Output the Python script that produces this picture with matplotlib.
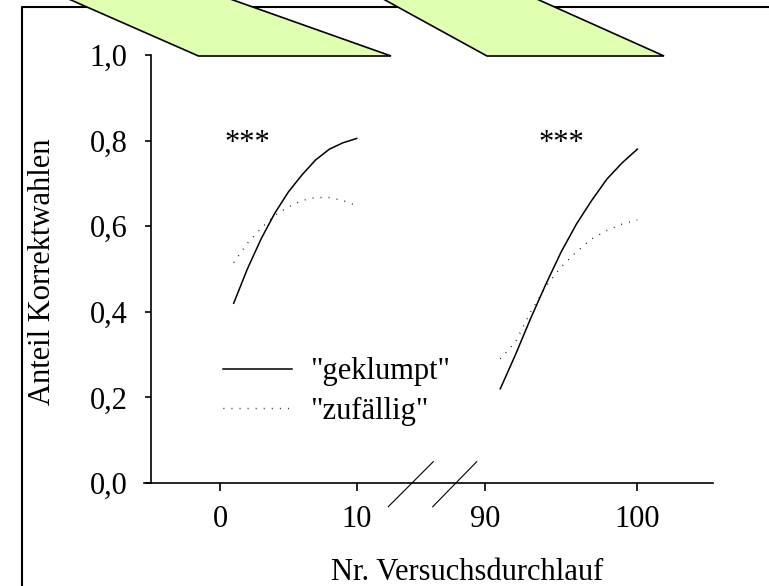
import numpy as np
import matplotlib
matplotlib.use("Agg")
import matplotlib.pyplot as plt
from matplotlib.lines import Line2D
from matplotlib.patches import Polygon
from matplotlib.ticker import FuncFormatter

# Versuchsdurchläufe am Anfang und am Ende
durchlauf_anfang = [1, 2, 3, 4, 5, 6, 7, 8, 9, 10]
durchlauf_ende = [91, 92, 93, 94, 95, 96, 97, 98, 99, 100]

# Anteil Korrektwahlen (angepasste Kurven)
geklumpt_anfang = [0.42, 0.50, 0.57, 0.63, 0.68, 0.72, 0.755, 0.78, 0.795, 0.805]
zufaellig_anfang = [0.515, 0.56, 0.595, 0.625, 0.645, 0.66, 0.667, 0.667, 0.66, 0.648]
geklumpt_ende = [0.22, 0.30, 0.385, 0.465, 0.54, 0.605, 0.66, 0.71, 0.748, 0.78]
zufaellig_ende = [0.29, 0.33, 0.40, 0.46, 0.505, 0.54, 0.57, 0.59, 0.605, 0.615]

x_ticks = [0, 10, 90, 100]
y_ticks = [0.0, 0.2, 0.4, 0.6, 0.8, 1.0]
stern_x = [2, 95]
stern_text = "***"

W, H = 769, 586
LUECKE = 9.386      # Abstand zwischen 10 und 90 auf der Achse
STRECKUNG = 1.114   # rechter Abschnitt etwas breiter


def vorwaerts(x):
    x = np.asarray(x, dtype=float)
    return np.where(x <= 10, x,
                    np.where(x < 90, 10 + (x - 10) / 80 * LUECKE,
                             10 + LUECKE + (x - 90) * STRECKUNG))


def rueckwaerts(p):
    p = np.asarray(p, dtype=float)
    return np.where(p <= 10, p,
                    np.where(p < 10 + LUECKE, 10 + (p - 10) / LUECKE * 80,
                             90 + (p - 10 - LUECKE) / STRECKUNG))


plt.rcParams['font.family'] = ['Liberation Serif', 'DejaVu Serif']
plt.rcParams['font.size'] = 22

fig = plt.figure(figsize=(W / 100, H / 100), dpi=100)


def px(x, y):
    return x / W, 1 - y / H


# Rahmen links und oben
fig.add_artist(Line2D([px(22, 0)[0], px(22, 0)[0], 1.0],
                      [0.0, px(0, 7)[1], px(0, 7)[1]],
                      color='black', lw=1.5, transform=fig.transFigure, zorder=1))

# grüne Parallelogramme am oberen Rand
for ecken in ([(198.5, 56), (391, 56), (204.8, -10), (48.2, -10)],
              [(487, 56), (664, 56), (516.7, -10), (366.8, -10)]):
    fig.add_artist(Polygon([px(*e) for e in ecken], closed=True,
                           facecolor='#E0FFB0', edgecolor='black', lw=1.2,
                           transform=fig.transFigure, zorder=2))

ax = fig.add_axes([144 / W, 1 - 483 / H, 569 / W, 428 / H])
ax.set_xscale('function', functions=(vorwaerts, rueckwaerts))
ax.set_xlim(rueckwaerts(-5.56), rueckwaerts(36.06))
ax.set_ylim(0, 1)

ax.plot(durchlauf_anfang, geklumpt_anfang, color='black', lw=1.1, label='"geklumpt"')
ax.plot(durchlauf_anfang, zufaellig_anfang, color='black', lw=1.0,
        linestyle=(0, (0.6, 5.2)), label='"zufällig"')
ax.plot(durchlauf_ende, geklumpt_ende, color='black', lw=1.1)
ax.plot(durchlauf_ende, zufaellig_ende, color='black', lw=1.0,
        linestyle=(0, (0.6, 5.2)))

for sx in stern_x:
    ax.text(sx, 0.776, stern_text, ha='center', va='baseline', fontsize=22)

ax.spines['top'].set_visible(False)
ax.spines['right'].set_visible(False)
ax.spines['left'].set_position(('data', rueckwaerts(-5.08)))
for s in ('left', 'bottom'):
    ax.spines[s].set_linewidth(1.2)

ax.set_xticks(x_ticks)
ax.set_yticks(y_ticks)
ax.yaxis.set_major_formatter(FuncFormatter(lambda v, _: f"{v:.1f}".replace('.', ',')))
ax.xaxis.set_major_formatter(FuncFormatter(lambda v, _: f"{v:.0f}"))
ax.tick_params(axis='y', length=4.5, width=1.2, pad=12, labelsize=22)
ax.tick_params(axis='x', length=5.5, width=1.2, pad=10, labelsize=22)
ax.minorticks_off()

# Achsenbruch
for x0, x1 in ((0.4293, 0.5084), (0.5074, 0.5847)):
    ax.plot([x0, x1], [-0.0554, 0.0498], color='black', lw=0.8,
            transform=ax.transAxes, clip_on=False)

ax.legend(loc='center left', bbox_to_anchor=(0.138, 0.213), frameon=False,
          handlelength=2.26, handletextpad=0.6, labelspacing=0.35,
          borderpad=0, borderaxespad=0, fontsize=22)

fig.text(43 / W, 1 - 272 / H, 'Anteil Korrektwahlen', rotation=90,
         ha='center', va='center', fontsize=22)
fig.text(467 / W, 1 - 580 / H, 'Nr. Versuchsdurchlauf',
         ha='center', va='baseline', fontsize=22)

fig.savefig('out.png', dpi=100)
